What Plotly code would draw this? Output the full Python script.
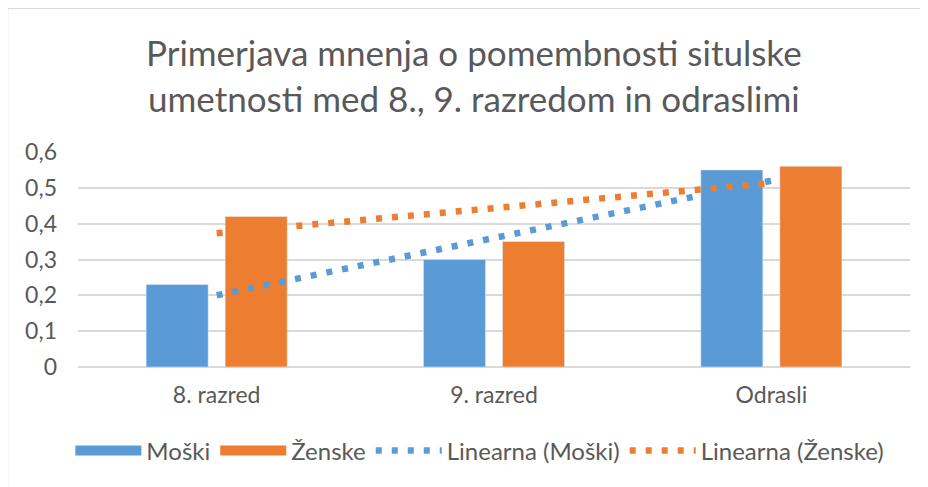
import numpy as np
import plotly.graph_objects as go

categories = ["8. razred", "9. razred", "Odrasli"]
moski = [0.23, 0.30, 0.55]
zenske = [0.42, 0.35, 0.56]
y_ticks = [0, 0.1, 0.2, 0.3, 0.4, 0.5, 0.6]

BLUE = "#5B9BD5"
ORANGE = "#ED7D31"
TXT = "#595959"
GRID = "#D9D9D9"
FONT = "Lato, Open Sans, sans-serif"

idx = np.arange(len(categories))
fit_m = np.polyfit(idx, moski, 1)
fit_z = np.polyfit(idx, zenske, 1)
ends = [categories[0], categories[-1]]
trend_m = list(np.polyval(fit_m, [idx[0], idx[-1]]))
trend_z = list(np.polyval(fit_z, [idx[0], idx[-1]]))

DOT = "6px,10px"

fig = go.Figure()
fig.add_trace(go.Bar(x=categories, y=moski, name="Moški", marker_color=BLUE, showlegend=False))
fig.add_trace(go.Bar(x=categories, y=zenske, name="Ženske", marker_color=ORANGE, showlegend=False))
fig.add_trace(go.Scatter(x=ends, y=trend_m, mode="lines", name="Linearna (Moški)",
                         line=dict(color=BLUE, width=6.5, dash=DOT), showlegend=False))
fig.add_trace(go.Scatter(x=ends, y=trend_z, mode="lines", name="Linearna (Ženske)",
                         line=dict(color=ORANGE, width=6.5, dash=DOT), showlegend=False))

# legend entries
fig.add_trace(go.Scatter(x=[None], y=[None], mode="lines", name="Moški",
                         line=dict(color=BLUE, width=14)))
fig.add_trace(go.Scatter(x=[None], y=[None], mode="lines", name="Ženske",
                         line=dict(color=ORANGE, width=14)))
fig.add_trace(go.Scatter(x=[None], y=[None], mode="lines", name="Linearna (Moški)",
                         line=dict(color=BLUE, width=6.5, dash=DOT)))
fig.add_trace(go.Scatter(x=[None], y=[None], mode="lines", name="Linearna (Ženske)",
                         line=dict(color=ORANGE, width=6.5, dash=DOT)))

fig.update_layout(
    width=920, height=479,
    margin=dict(l=70, r=18, t=144, b=120),
    paper_bgcolor="white", plot_bgcolor="white",
    separators=",.",
    font=dict(family=FONT, color=TXT, size=23),
    barmode="group", bargap=0.43, bargroupgap=0.215,
    showlegend=True,
    legend=dict(orientation="h", x=0.483, xanchor="center", y=-0.39, yanchor="middle",
                font=dict(size=24, color=TXT), itemwidth=66, tracegroupgap=0,
                bgcolor="rgba(0,0,0,0)"),
    annotations=[dict(text="Primerjava mnenja o pomembnosti situlske<br>umetnosti med 8., 9. razredom in odraslimi",
                      xref="paper", yref="paper", x=0.476, y=1.57, xanchor="center", yanchor="top",
                      showarrow=False, font=dict(size=35, color=TXT, family=FONT))],
    shapes=[dict(type="rect", xref="paper", yref="paper", x0=-0.0847, x1=2, y0=-2, y1=1.669,
                 line=dict(color=GRID, width=1.5), fillcolor="rgba(0,0,0,0)", layer="below")],
)
fig.update_xaxes(showgrid=False, showline=False, ticks="", tickfont=dict(size=23, color=TXT),
                 ticklabelstandoff=12)
fig.update_yaxes(range=[0, 0.6], tickvals=y_ticks, showgrid=True, gridcolor=GRID, gridwidth=1.5,
                 zeroline=True, zerolinecolor=GRID, zerolinewidth=1.5, showline=False,
                 tickfont=dict(size=23, color=TXT), ticklabelstandoff=20, tickformat="~g")

fig.write_html("out.html")
